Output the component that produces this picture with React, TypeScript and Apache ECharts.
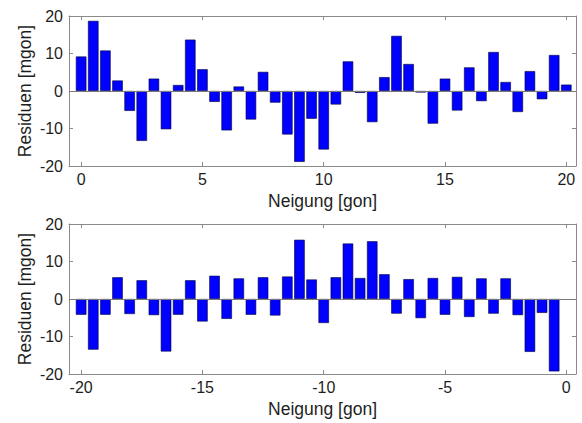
import React, { useEffect, useRef } from "react";
import * as echarts from "echarts";

const topX = [0, 0.5, 1, 1.5, 2, 2.5, 3, 3.5, 4, 4.5, 5, 5.5, 6, 6.5, 7, 7.5, 8, 8.5, 9, 9.5, 10, 10.5, 11, 11.5, 12, 12.5, 13, 13.5, 14, 14.5, 15, 15.5, 16, 16.5, 17, 17.5, 18, 18.5, 19, 19.5, 20];
const topValues = [9.2, 18.7, 10.8, 2.8, -5.3, -13.3, 3.3, -10.2, 1.6, 13.7, 5.8, -2.9, -10.5, 1.2, -7.6, 5.1, -3.1, -11.6, -18.9, -7.4, -15.6, -3.6, 7.9, -0.5, -8.3, 3.7, 14.7, 7.2, -0.4, -8.7, 3.3, -5.2, 6.3, -2.7, 10.4, 2.4, -5.6, 5.3, -2.2, 9.6, 1.7];

const bottomX = [-20, -19.5, -19, -18.5, -18, -17.5, -17, -16.5, -16, -15.5, -15, -14.5, -14, -13.5, -13, -12.5, -12, -11.5, -11, -10.5, -10, -9.5, -9, -8.5, -8, -7.5, -7, -6.5, -6, -5.5, -5, -4.5, -4, -3.5, -3, -2.5, -2, -1.5, -1, -0.5];
const bottomValues = [-4.2, -13.5, -4.2, 5.8, -4.0, 5.0, -4.3, -14.0, -4.2, 5.0, -6.0, 6.2, -5.3, 5.5, -4.2, 5.8, -4.4, 6.0, 15.8, 5.2, -6.4, 5.8, 14.8, 5.6, 15.4, 6.6, -3.9, 5.3, -5.1, 5.6, -4.2, 5.9, -4.8, 5.5, -3.9, 5.5, -4.3, -14.1, -3.7, -19.3];

const topTicks = [0, 5, 10, 15, 20];
const bottomTicks = [-20, -15, -10, -5, 0];
const yTicks = [-20, -10, 0, 10, 20];

const xLabel = "Neigung [gon]";
const yLabel = "Residuen [mgon]";

const FONT = "Liberation Sans, Arial, sans-serif";
const TEXT = "#1e1e1e";
const AXIS = "#8a8a8a";
const FS = 16;
const NFS = 17.5;

export default function App() {
  const ref = useRef<HTMLDivElement>(null);
  useEffect(() => {
    if (!ref.current) return;
    const chart = echarts.init(ref.current, null, { renderer: "svg" });

    const grids = [
      { left: 69, top: 16, width: 507, height: 150 },
      { left: 69, top: 224, width: 507, height: 150 },
    ];

    const mkX = (gridIndex: number, min: number, max: number, ticks: number[], main: boolean, pos: string) => ({
      type: "value",
      gridIndex,
      position: pos,
      min,
      max,
      name: main ? xLabel : "",
      nameLocation: "middle",
      nameGap: 26,
      nameMoveOverlap: false,
      nameTextStyle: { fontFamily: FONT, fontSize: NFS, color: TEXT },
      axisLine: { show: true, onZero: false, lineStyle: { color: AXIS, width: 1 } },
      axisTick: { show: true, inside: true, length: 4, customValues: ticks, lineStyle: { color: AXIS } },
      axisLabel: {
        show: main,
        customValues: ticks,
        margin: 5,
        fontFamily: FONT,
        fontSize: FS,
        color: TEXT,
      },
      splitLine: { show: false },
    });

    const mkY = (gridIndex: number, main: boolean, pos: string) => ({
      type: "value",
      gridIndex,
      position: pos,
      min: -20,
      max: 20,
      interval: 10,
      name: main ? yLabel : "",
      nameLocation: "middle",
      nameGap: 35,
      nameMoveOverlap: false,
      nameTextStyle: { fontFamily: FONT, fontSize: NFS, color: TEXT },
      axisLine: { show: true, onZero: false, lineStyle: { color: AXIS, width: 1 } },
      axisTick: { show: true, inside: true, length: 4, lineStyle: { color: AXIS } },
      axisLabel: {
        show: main,
        margin: 6,
        fontFamily: FONT,
        fontSize: FS,
        color: TEXT,
        formatter: (v: number) => (yTicks.includes(v) ? String(v) : ""),
      },
      splitLine: { show: false },
    });

    const barSeries = (xi: number, yi: number, xs: number[], vals: number[]) => ({
      type: "bar",
      xAxisIndex: xi,
      yAxisIndex: yi,
      barWidth: 10.5,
      data: xs.map((x, i) => [x, vals[i]]),
      itemStyle: { color: "#0000ff", borderColor: "#00003a", borderWidth: 0.6 },
      markLine: {
        silent: true,
        symbol: "none",
        label: { show: false },
        lineStyle: { color: "#7a7a7a", type: "solid", width: 1 },
        data: [{ yAxis: 0 }],
      },
    });

    chart.setOption({
      animation: false,
      backgroundColor: "#ffffff",
      grid: grids,
      xAxis: [
        mkX(0, -0.5, 20.4, topTicks, true, "bottom"),
        mkX(0, -0.5, 20.4, topTicks, false, "top"),
        mkX(1, -20.5, 0.4, bottomTicks, true, "bottom"),
        mkX(1, -20.5, 0.4, bottomTicks, false, "top"),
      ],
      yAxis: [
        mkY(0, true, "left"),
        mkY(0, false, "right"),
        mkY(1, true, "left"),
        mkY(1, false, "right"),
      ],
      series: [barSeries(0, 0, topX, topValues), barSeries(2, 2, bottomX, bottomValues)],
    });

    return () => chart.dispose();
  }, []);

  return <div ref={ref} style={{ width: 582, height: 423, position: "absolute", left: 0, top: 0 }} />;
}
